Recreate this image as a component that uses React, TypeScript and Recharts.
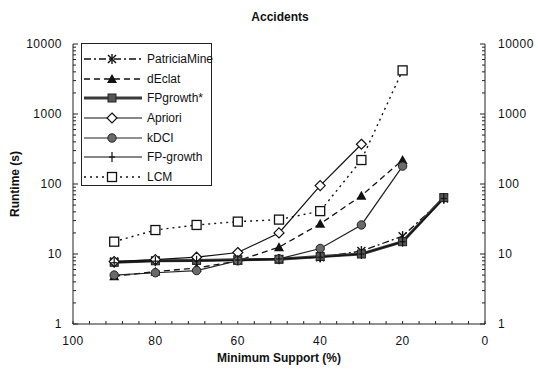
import React from "react";
import {
  LineChart,
  Line,
  XAxis,
  YAxis,
  Legend,
  Customized,
} from "recharts";

// minimum support levels (%) and runtimes (s) per miner
const support = [90, 80, 70, 60, 50, 40, 30, 20, 10];
const patriciaMine = [7.8, 8.0, 8.1, 8.2, 8.4, 9.0, 11, 18, 62];
const dEclat = [4.8, 5.6, 6.3, 8.0, 12.5, 27, 68, 220, null];
const fpGrowthStar = [7.6, 8.0, 8.1, 8.3, 8.4, 9.2, 10, 15, 64];
const apriori = [7.8, 8.3, 9.0, 10.5, 20, 95, 370, null, null];
const kdci = [5.0, 5.4, 5.8, 8.0, 8.5, 12, 26, 180, null];
const fpGrowth = [7.5, 7.9, 8.0, 8.2, 8.5, 9.0, 10, 15, 62];
const lcm = [15, 22, 26, 29, 31, 41, 220, 4200, null];

const xTicks = Array.from({ length: 26 }, (_, i) => i * 4);
const xLabels = [0, 20, 40, 60, 80, 100];
const yTicks = [1, 2, 3, 4, 5, 6, 7, 8, 9, 10, 20, 30, 40, 50, 60, 70, 80, 90, 100, 200, 300, 400, 500, 600, 700, 800, 900, 1000, 2000, 3000, 4000, 5000, 6000, 7000, 8000, 9000, 10000];
const yLabels = [1, 10, 100, 1000, 10000];

const W = 538;
const H = 375;
const LEFT = 73;
const RIGHT = 485;
const TOP = 44;
const BOTTOM = 324;
const FONT = "'Liberation Sans', Arial, sans-serif";

type MarkerKind = "star" | "triangle" | "filledSquare" | "diamond" | "circle" | "plus" | "square";

interface Series {
  key: string;
  name: string;
  values: (number | null)[];
  stroke: string;
  width: number;
  dash?: string;
  marker: MarkerKind;
}

const series: Series[] = [
  { key: "patriciaMine", name: "PatriciaMine", values: patriciaMine, stroke: "#111", width: 1.3, dash: "7 3 2 3", marker: "star" },
  { key: "dEclat", name: "dEclat", values: dEclat, stroke: "#111", width: 1.3, dash: "6 4", marker: "triangle" },
  { key: "fpGrowthStar", name: "FPgrowth*", values: fpGrowthStar, stroke: "#3a3a3a", width: 3, marker: "filledSquare" },
  { key: "apriori", name: "Apriori", values: apriori, stroke: "#111", width: 1.2, marker: "diamond" },
  { key: "kdci", name: "kDCI", values: kdci, stroke: "#222", width: 1.2, marker: "circle" },
  { key: "fpGrowth", name: "FP-growth", values: fpGrowth, stroke: "#111", width: 1.2, marker: "plus" },
  { key: "lcm", name: "LCM", values: lcm, stroke: "#111", width: 1.4, dash: "2 4", marker: "square" },
];

const rows = support.map((s, i) => {
  const row: Record<string, number | null> = { support: s };
  series.forEach((sr) => {
    row[sr.key] = sr.values[i];
  });
  return row;
});

function Marker({ kind, cx, cy }: { kind: MarkerKind; cx: number; cy: number }) {
  switch (kind) {
    case "star":
      return (
        <g stroke="#111" strokeWidth={1.4}>
          <line x1={cx - 4} y1={cy - 4} x2={cx + 4} y2={cy + 4} />
          <line x1={cx - 4} y1={cy + 4} x2={cx + 4} y2={cy - 4} />
          <line x1={cx} y1={cy - 5} x2={cx} y2={cy + 5} />
        </g>
      );
    case "triangle":
      return <polygon points={`${cx},${cy - 5} ${cx - 5},${cy + 4} ${cx + 5},${cy + 4}`} fill="#111" />;
    case "filledSquare":
      return <rect x={cx - 4} y={cy - 4} width={8} height={8} fill="#555" stroke="#222" strokeWidth={1} />;
    case "diamond":
      return (
        <polygon
          points={`${cx},${cy - 5} ${cx + 5},${cy} ${cx},${cy + 5} ${cx - 5},${cy}`}
          fill="#fff"
          stroke="#111"
          strokeWidth={1.2}
        />
      );
    case "circle":
      return <circle cx={cx} cy={cy} r={4.2} fill="#6a6a6a" stroke="#222" strokeWidth={1} />;
    case "plus":
      return (
        <g stroke="#111" strokeWidth={1.2}>
          <line x1={cx} y1={cy - 5} x2={cx} y2={cy + 5} />
          <line x1={cx - 3} y1={cy} x2={cx + 3} y2={cy} />
        </g>
      );
    case "square":
      return <rect x={cx - 4.5} y={cy - 4.5} width={9} height={9} fill="#fff" stroke="#111" strokeWidth={1.3} />;
  }
  return null;
}

const LegendBox = () => (
  <div
    style={{
      border: "1px solid #222",
      background: "#fff",
      width: 131,
      height: 143,
      boxSizing: "border-box",
      paddingTop: 5,
      fontFamily: FONT,
      fontSize: 12,
      color: "#111",
    }}
  >
    {series.map((s) => (
      <div key={s.key} style={{ display: "flex", alignItems: "center", height: 19.7 }}>
        <svg width={62} height={14} style={{ flex: "none" }}>
          <line x1={2} y1={7} x2={60} y2={7} stroke={s.stroke} strokeWidth={s.width} strokeDasharray={s.dash} />
          <Marker kind={s.marker} cx={30} cy={7} />
        </svg>
        <span style={{ marginLeft: 3, whiteSpace: "nowrap" }}>{s.name}</span>
      </div>
    ))}
  </div>
);

const LeftTick = (props: any) => {
  const { y, payload } = props;
  const major = yLabels.includes(payload.value);
  return (
    <g>
      <line x1={LEFT} y1={y} x2={LEFT + (major ? 5 : 3)} y2={y} stroke="#222" strokeWidth={1} />
      {major && (
        <text x={LEFT - 11} y={y + 4} textAnchor="end" fontSize={12} letterSpacing={0.5} fontFamily={FONT} fill="#111">
          {payload.value}
        </text>
      )}
    </g>
  );
};

const RightTick = (props: any) => {
  const { y, payload } = props;
  const major = yLabels.includes(payload.value);
  return (
    <g>
      <line x1={RIGHT} y1={y} x2={RIGHT - (major ? 5 : 3)} y2={y} stroke="#222" strokeWidth={1} />
      {major && (
        <text x={RIGHT + 13} y={y + 4} textAnchor="start" fontSize={12} letterSpacing={0.5} fontFamily={FONT} fill="#111">
          {payload.value}
        </text>
      )}
    </g>
  );
};

const BottomTick = (props: any) => {
  const { x, payload } = props;
  const major = xLabels.includes(payload.value);
  return (
    <g>
      <line x1={x} y1={BOTTOM} x2={x} y2={BOTTOM - 3} stroke="#222" strokeWidth={1} />
      {major && (
        <text x={x} y={BOTTOM + 21} textAnchor="middle" fontSize={12} letterSpacing={0.5} fontFamily={FONT} fill="#111">
          {payload.value}
        </text>
      )}
    </g>
  );
};

const Titles = () => (
  <g fontFamily={FONT} fontWeight="bold" fill="#111">
    <text x={280} y={21} textAnchor="middle" fontSize={12}>
      Accidents
    </text>
    <text x={19} y={(TOP + BOTTOM) / 2} textAnchor="middle" fontSize={12} transform={`rotate(-90 19 ${(TOP + BOTTOM) / 2})`}>
      Runtime (s)
    </text>
    <text x={(LEFT + RIGHT) / 2} y={362} textAnchor="middle" fontSize={12}>
      Minimum Support (%)
    </text>
  </g>
);

export default function App() {
  return (
    <div style={{ position: "absolute", left: 0, top: 0, width: W, height: H, background: "#fff" }}>
      <LineChart width={W} height={H} data={rows} margin={{ top: TOP, right: 0, bottom: 0, left: 0 }}>
        <XAxis
          dataKey="support"
          type="number"
          domain={[0, 100]}
          reversed
          ticks={xTicks}
          interval={0}
          height={H - BOTTOM}
          tickLine={false}
          tick={BottomTick}
          stroke="#222"
        />
        <XAxis xAxisId="top" dataKey="support" type="number" domain={[0, 100]} reversed orientation="top" height={0} tick={false} tickLine={false} stroke="#222" />
        <YAxis
          yAxisId="left"
          scale="log"
          domain={[1, 10000]}
          allowDataOverflow
          ticks={yTicks}
          interval={0}
          width={LEFT}
          tickLine={false}
          tick={LeftTick}
          stroke="#222"
        />
        <YAxis
          yAxisId="right"
          orientation="right"
          scale="log"
          domain={[1, 10000]}
          allowDataOverflow
          ticks={yTicks}
          interval={0}
          width={W - RIGHT}
          tickLine={false}
          tick={RightTick}
          stroke="#222"
        />
        {series.map((s) => (
          <Line
            key={s.key}
            yAxisId="left"
            type="linear"
            dataKey={s.key}
            name={s.name}
            stroke={s.stroke}
            strokeWidth={s.width}
            strokeDasharray={s.dash}
            isAnimationActive={false}
            dot={(p: any) =>
              p.cx == null || p.cy == null || p.value == null ? (
                <g key={`${s.key}-${p.index}`} />
              ) : (
                <g key={`${s.key}-${p.index}`}>
                  <Marker kind={s.marker} cx={p.cx} cy={p.cy} />
                </g>
              )
            }
            activeDot={false}
          />
        ))}
        <Legend
          layout="horizontal"
          verticalAlign="middle"
          align="center"
          width={131}
          height={143}
          wrapperStyle={{ left: 81, top: 43, width: 131, height: 143 }}
          content={() => <LegendBox />}
        />
        <Customized component={Titles} />
      </LineChart>
    </div>
  );
}
